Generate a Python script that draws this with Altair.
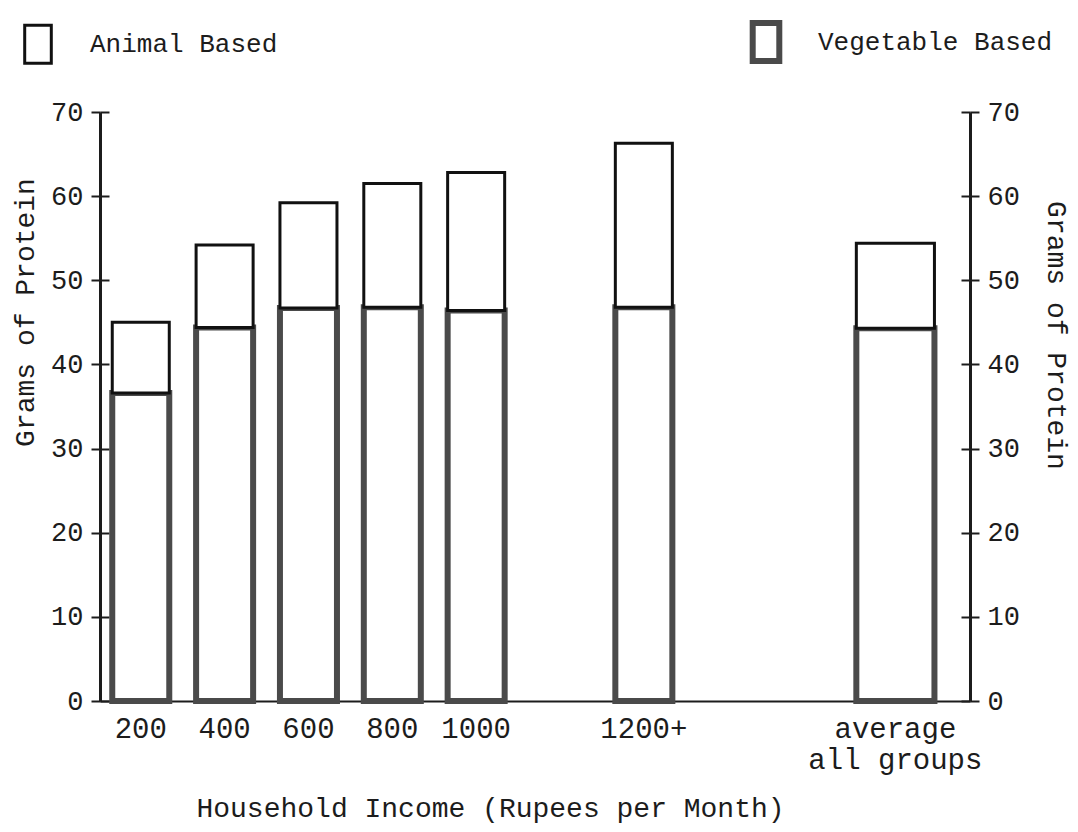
import altair as alt
import pandas as pd

# ---- data ----
income = ["200", "400", "600", "800", "1000", "1200+", "average|all groups"]
vegetable = [36.6, 44.4, 46.7, 46.8, 46.4, 46.8, 44.3]
animal = [8.4, 9.8, 12.5, 14.7, 16.4, 19.5, 10.1]
series_names = ["Animal Based", "Vegetable Based"]
y_ticks = [0, 10, 20, 30, 40, 50, 60, 70]
# empty slots on the income axis (gaps between groups)
x_domain = ["200", "400", "600", "800", "1000", " ", "1200+", "  ", "   ", "average|all groups"]

rows = []
for i, inc in enumerate(income):
    rows.append({"income": inc, "series": "Vegetable Based", "low": 0.0, "high": vegetable[i]})
    rows.append({"income": inc, "series": "Animal Based", "low": vegetable[i], "high": vegetable[i] + animal[i]})
df = pd.DataFrame(rows)

FONT = "Liberation Mono"
INK = "#1c1c1c"

x_enc = alt.X(
    "income:N",
    scale=alt.Scale(domain=x_domain, paddingInner=0.32, paddingOuter=0.348, align=0.21),
    axis=alt.Axis(
        title="Household Income (Rupees per Month)",
        labelExpr="split(datum.label, '|')",
        ticks=False, labelAngle=0, labelPadding=13, labelFontSize=29,
        labelLineHeight=31, labelLimit=400, labelOverlap=False,
        labelFont=FONT, labelColor=INK,
        domainWidth=2, domainColor=INK,
        titleFont=FONT, titleFontSize=28, titleFontWeight="normal", titleColor=INK,
        titleX=390, titleY=107, titleBaseline="middle", titleAlign="center",
    ),
)
y_scale = alt.Scale(domain=[0, 70], nice=False)

stroke_enc = alt.Stroke(
    "series:N",
    scale=alt.Scale(domain=series_names, range=["#111111", "#4a4a4a"]),
    legend=alt.Legend(
        title=None, orient="none", legendX=-84, legendY=-92,
        direction="horizontal", columns=2,
        symbolType="M-0.7,-1H0.7V1H-0.7Z", symbolSize=1444,
        symbolFillColor="white", symbolStrokeWidth=4,
        labelFont=FONT, labelFontSize=26, labelColor=INK,
        labelOffset=30, labelLimit=400, columnPadding=462, padding=0,
    ),
)
sw_enc = alt.StrokeWidth(
    "series:N",
    scale=alt.Scale(domain=series_names, range=[3, 6]),
    legend=None,
)

base = alt.Chart(df)

bars = base.transform_filter(alt.datum.income != "average|all groups").mark_bar(fill="white").encode(
    x=x_enc,
    y=alt.Y("high:Q", scale=y_scale, axis=alt.Axis(
        orient="left", values=y_ticks, tickSize=9, tickWidth=2, tickColor=INK,
        domainWidth=3, domainColor=INK, grid=False,
        labelFont=FONT, labelFontSize=27, labelColor=INK, labelPadding=8,
        title="Grams of Protein", titleFont=FONT, titleFontSize=28,
        titleFontWeight="normal", titleColor=INK,
        titleX=-75, titleY=200, titleAngle=-90, titleBaseline="middle", titleAlign="center",
    )),
    y2="low:Q",
    stroke=stroke_enc,
    strokeWidth=sw_enc,
)

avg_bar = base.transform_filter(alt.datum.income == "average|all groups").mark_bar(
    fill="white", width=alt.RelativeBandSize(1.37)
).encode(
    x=x_enc,
    y=alt.Y("high:Q", scale=y_scale, axis=None),
    y2="low:Q",
    stroke=stroke_enc,
    strokeWidth=sw_enc,
)

left_inner = base.mark_point(opacity=0).encode(
    x=x_enc,
    y=alt.Y("high:Q", scale=y_scale, axis=alt.Axis(
        orient="left", offset=-9, values=y_ticks, tickSize=9, tickWidth=2,
        tickColor=INK, domain=False, labels=False, grid=False, title="")),
)

right_axis = base.mark_point(opacity=0).encode(
    x=x_enc,
    y=alt.Y("high:Q", scale=y_scale, axis=alt.Axis(
        orient="right", values=y_ticks, tickSize=9, tickWidth=2, tickColor=INK,
        domainWidth=3, domainColor=INK, grid=False,
        labelFont=FONT, labelFontSize=27, labelColor=INK, labelPadding=8,
        title="Grams of Protein", titleFont=FONT, titleFontSize=28,
        titleFontWeight="normal", titleColor=INK,
        titleX=85, titleY=223, titleAngle=90, titleBaseline="middle", titleAlign="center",
    )),
)

right_inner = base.mark_point(opacity=0).encode(
    x=x_enc,
    y=alt.Y("high:Q", scale=y_scale, axis=alt.Axis(
        orient="right", offset=-9, values=y_ticks, tickSize=9, tickWidth=2,
        tickColor=INK, domain=False, labels=False, grid=False, title="")),
)

chart = alt.layer(bars, avg_bar, left_inner, right_axis, right_inner).resolve_axis(
    y="independent"
).properties(
    width=870, height=589,
    autosize=alt.AutoSizeParams(type="none"),
    padding={"left": 92, "top": 104, "right": 100, "bottom": 128},
    background="white",
).configure_view(stroke=None)

chart.save("out.html", embed_options={"renderer": "svg", "actions": False})
